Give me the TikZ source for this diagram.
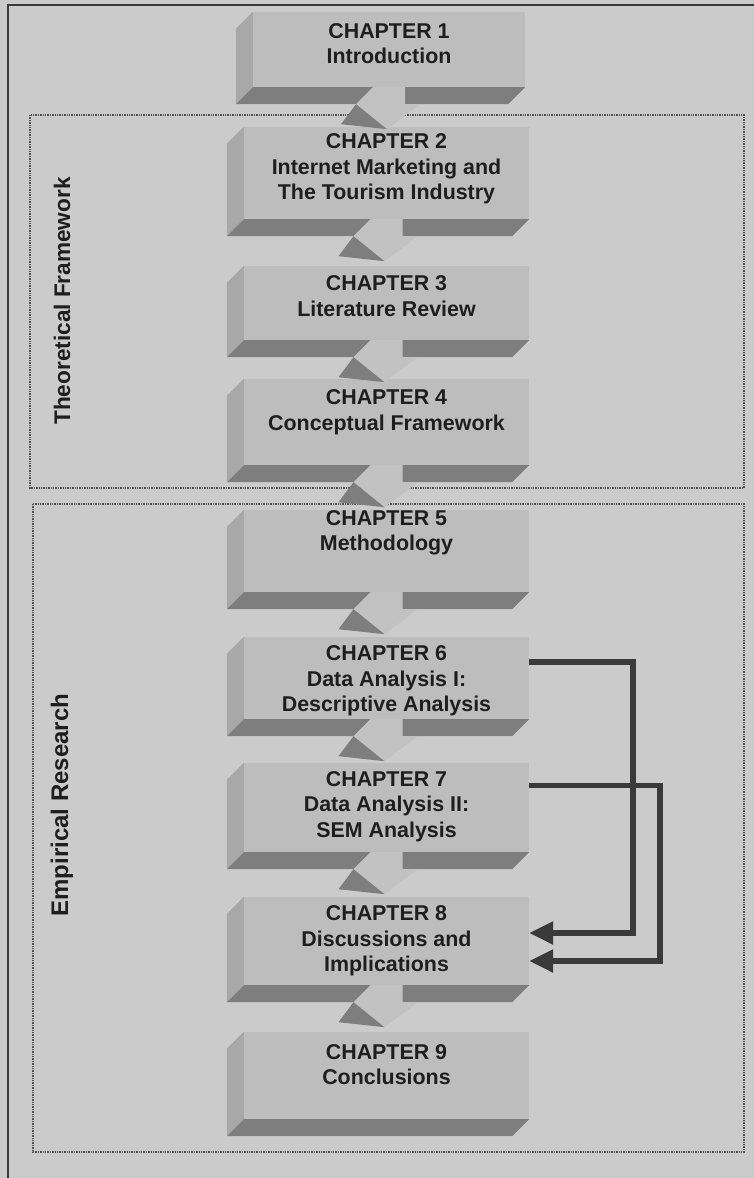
\documentclass[tikz,border=0pt]{standalone}
\usepackage{fontspec}
\setmainfont{Liberation Sans}
\usetikzlibrary{arrows.meta,calc}

\definecolor{paper}{HTML}{CBCBCB}
\definecolor{face}{HTML}{BDBDBD}
\definecolor{stemface}{HTML}{C2C2C2}
\definecolor{sideface}{HTML}{A8A8A8}
\definecolor{underface}{HTML}{7E7E7E}
\definecolor{ink}{HTML}{1E1E1E}
\definecolor{rulecol}{HTML}{3A3A3A}
\definecolor{dotcol}{HTML}{505050}

% extruded sides of a chapter slab (left face and underside)
\newcommand\slab[1]{%
  \fill[sideface] (#1.north west) -- ($(#1.north west)+(-17,17)$)
    -- ($(#1.south west)+(-17,17)$) -- (#1.south west) -- cycle;
  \fill[underface] (#1.south west) -- (#1.south east)
    -- ($(#1.south east)+(-17,17)$) -- ($(#1.south west)+(-17,17)$) -- cycle;
}
% solid downward arrow hanging below a slab
\newcommand\flowarrow[1]{%
  \begin{scope}[shift={(#1.south)}]
    \fill[stemface] (-16,0) -- (16,0) -- (16,17) -- (30,18) -- (-2,42) -- (-33,17) -- cycle;
    \fill[underface] (-33,17) -- (-2,42) -- (-48,37) -- cycle;
  \end{scope}
}

\begin{document}
\begin{tikzpicture}[x=1pt,y=-1pt,
  chap/.style={rectangle, fill=face, inner sep=0pt},
  chaptext/.style={align=center, text=ink, font=\fontsize{21.4}{25.5}\selectfont\bfseries},
  sidelabel/.style={rotate=90, text=ink, font=\fontsize{22.6}{26}\selectfont\bfseries},
  panel/.style={draw=dotcol, line width=1.4pt, densely dotted},
  link/.style={draw=rulecol, line width=5.5pt, line join=miter,
    -{Triangle[length=24pt,width=22pt]}}]

\useasboundingbox (0,0) rectangle (754,1178);
\fill[paper] (0,0) rectangle (754,1178);
\draw[rulecol, line width=2pt] (8,1178) -- (8,5) -- (754,5);

% the two groupings
\draw[panel] (30,115) rectangle (744,488);
\draw[panel] (33,504) rectangle (744,1152);
\node[sidelabel] (lt) at (62,301) {Theoretical Framework};
\node[sidelabel, font=\fontsize{24}{28}\selectfont\bfseries] (le) at (62,805) {Empirical Research};

% chapter slabs
\node[chap, minimum width=272pt, minimum height=75pt] (c1) at (389,49.5) {};
\node[chap, minimum width=285pt, minimum height=92pt] (c2) at (386.5,173) {};
\node[chap, minimum width=285pt, minimum height=74pt] (c3) at (386.5,303) {};
\node[chap, minimum width=285pt, minimum height=86pt] (c4) at (386.5,422) {};
\node[chap, minimum width=285pt, minimum height=82pt] (c5) at (386.5,551) {};
\node[chap, minimum width=285pt, minimum height=82pt] (c6) at (386.5,678) {};
\node[chap, minimum width=285pt, minimum height=89pt] (c7) at (386.5,807.5) {};
\node[chap, minimum width=285pt, minimum height=88pt] (c8) at (386.5,941) {};
\node[chap, minimum width=285pt, minimum height=87pt] (c9) at (386.5,1075.5) {};

\foreach \c in {c1,c2,c3,c4,c5,c6,c7,c8,c9}{\slab{\c}}

\node[chaptext] (t1) at ([yshift=6pt]c1.center) {CHAPTER 1\\Introduction};
\node[chaptext] (t2) at ([yshift=4pt]c2.center) {CHAPTER 2\\Internet Marketing and\\The Tourism Industry};
\node[chaptext] (t3) at ([yshift=7pt]c3.center) {CHAPTER 3\\Literature Review};
\node[chaptext] (t4) at ([yshift=10pt]c4.center) {CHAPTER 4\\Conceptual Framework};
\node[chaptext] (t5) at ([yshift=18pt]c5.center) {CHAPTER 5\\Methodology};
\node[chaptext] (t6) at ([yshift=-3pt]c6.center) {CHAPTER 6\\Data Analysis I:\\Descriptive Analysis};
\node[chaptext] (t7) at ([yshift=1pt]c7.center) {CHAPTER 7\\Data Analysis II:\\SEM Analysis};
\node[chaptext] (t8) at ([yshift=0pt]c8.center) {CHAPTER 8\\Discussions and\\Implications};
\node[chaptext] (t9) at ([yshift=11pt]c9.center) {CHAPTER 9\\Conclusions};

% arrows between consecutive chapters
\foreach \c in {c1,c2,c3,c4,c5,c6,c7,c8}{\flowarrow{\c}}

% feedback connectors into chapter 8
\draw[link] ([yshift=16pt]c6.east) -- ++(104,0) |- ([yshift=8pt]c8.east);
\draw[link] ([yshift=22pt]c7.east) -- ++(131,0) |- ([yshift=-20pt]c8.east);
\end{tikzpicture}
\end{document}
